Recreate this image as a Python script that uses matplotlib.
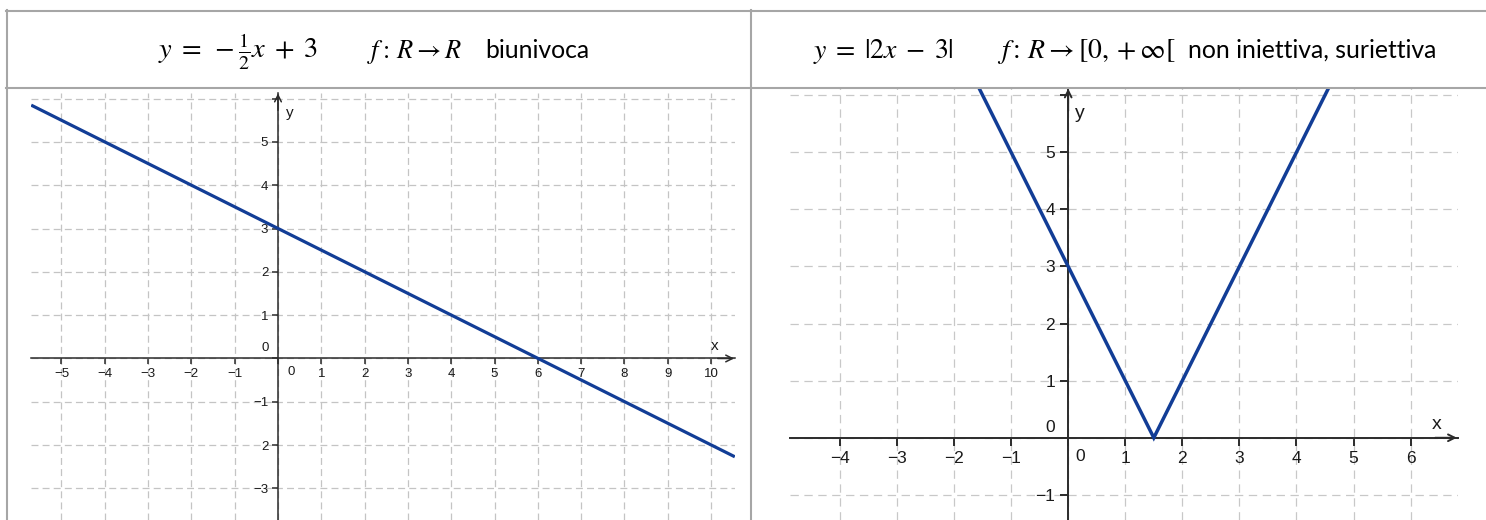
import numpy as np
import matplotlib
matplotlib.use("Agg")
import matplotlib.pyplot as plt
from matplotlib.lines import Line2D

plt.rcParams['mathtext.fontset'] = 'stix'
plt.rcParams['lines.scale_dashes'] = False
plt.rcParams['font.family'] = ['Liberation Sans', 'DejaVu Sans']

W, H = 1486, 520

# left graph: y = -1/2 x + 3 (end points)
lin_x = [-5.7, 10.55]
lin_y = [5.85, -2.27]
left_xticks = [-5, -4, -3, -2, -1, 0, 1, 2, 3, 4, 5, 6, 7, 8, 9, 10]
left_xlabels = ['−5', '−4', '−3', '−2', '−1', '', '1', '2', '3', '4', '5',
                '6', '7', '8', '9', '10']
left_yticks = [-3, -2, -1, 0, 1, 2, 3, 4, 5, 6]
left_ylabels = ['−3', '2', '−1', '', '1', '2', '3', '4', '5', '']

# right graph: y = |2x - 3|
abs_x = [-1.6, 1.5, 4.6]
abs_y = [6.2, 0.0, 6.2]
right_xticks = [-4, -3, -2, -1, 0, 1, 2, 3, 4, 5, 6]
right_xlabels = ['−4', '−3', '−2', '−1', '', '1', '2', '3', '4', '5', '6']
right_yticks = [-1, 0, 1, 2, 3, 4, 5, 6]
right_ylabels = ['−1', '', '1', '2', '3', '4', '5', '']

BLUE = '#123d96'
AXC = '#2b2b2b'
BORDER = '#a6a6a6'


def px_box(x0, y0, x1, y1):
    # pixel box measured from the top left corner
    return [x0 / W, 1 - y1 / H, (x1 - x0) / W, (y1 - y0) / H]


def setup(ax, xlim, ylim, xt, xl, yt, yl, fs, tlen, pad, dash, gcol, alw):
    ax.set_xlim(*xlim)
    ax.set_ylim(*ylim)
    ax.patch.set_alpha(0)
    for s in ['top', 'right']:
        ax.spines[s].set_visible(False)
    for s in ['left', 'bottom']:
        ax.spines[s].set_position(('data', 0))
        ax.spines[s].set_color(AXC)
        ax.spines[s].set_linewidth(alw)
    ax.set_xticks(xt)
    ax.set_xticklabels(xl)
    ax.set_yticks(yt)
    ax.set_yticklabels(yl)
    ax.tick_params(direction='out', length=tlen, width=alw, color=AXC,
                   labelsize=fs, labelcolor='#1a1a1a', pad=pad)
    ax.set_axisbelow(True)
    ax.grid(True, color=gcol, linestyle=(0, dash), linewidth=0.9)
    # arrow heads on the axes
    ax.annotate('', xy=(xlim[1] - 0.02, 0), xytext=(xlim[1] - 0.4, 0),
                arrowprops=dict(arrowstyle='->', lw=alw, color=AXC,
                                shrinkA=0, shrinkB=0, mutation_scale=12),
                annotation_clip=False)
    ax.annotate('', xy=(0, ylim[1] - 0.01), xytext=(0, ylim[1] - 0.4),
                arrowprops=dict(arrowstyle='->', lw=alw, color=AXC,
                                shrinkA=0, shrinkB=0, mutation_scale=12),
                annotation_clip=False)


fig = plt.figure(figsize=(W / 100, H / 100), dpi=100)

# ---- left graph
ax1 = fig.add_axes(px_box(31, 93, 735, 520))
setup(ax1, (-5.704, 10.554), (-3.73, 6.13), left_xticks, left_xlabels,
      left_yticks, left_ylabels, 9.5, 4.5, 2.5, (5, 3), '#c4c4c4', 1.1)
ax1.plot(lin_x, lin_y, color=BLUE, lw=2.3, zorder=4, solid_capstyle='butt')
ax1.annotate('0', xy=(0, 0), xytext=(13, -14), textcoords='offset pixels',
             ha='center', va='center', fontsize=9.5, color='#1a1a1a')
ax1.annotate('0', xy=(0, 0), xytext=(-13, 10), textcoords='offset pixels',
             ha='center', va='center', fontsize=9.5, color='#1a1a1a')
ax1.annotate('x', xy=(1, 0), xycoords=('axes fraction', 'data'),
             xytext=(-20, 12), textcoords='offset pixels',
             ha='center', va='center', fontsize=11, color='#1a1a1a')
ax1.annotate('y', xy=(0, 1), xycoords=('data', 'axes fraction'),
             xytext=(12, -20), textcoords='offset pixels',
             ha='center', va='center', fontsize=11, color='#1a1a1a')

# ---- right graph
ax2 = fig.add_axes(px_box(790, 88, 1458, 520))
setup(ax2, (-4.874, 6.83), (-1.44, 6.125), right_xticks, right_xlabels,
      right_yticks, right_ylabels, 12.5, 6, 3.5, (6, 4), '#c8c8c8', 1.4)
ax2.plot(abs_x, abs_y, color=BLUE, lw=2.5, zorder=4, solid_joinstyle='miter')
ax2.annotate('0', xy=(0, 0), xytext=(12, -19), textcoords='offset pixels',
             ha='center', va='center', fontsize=12.5, color='#1a1a1a')
ax2.annotate('0', xy=(0, 0), xytext=(-18, 10), textcoords='offset pixels',
             ha='center', va='center', fontsize=12.5, color='#1a1a1a')
ax2.annotate('x', xy=(1, 0), xycoords=('axes fraction', 'data'),
             xytext=(-21, 13), textcoords='offset pixels',
             ha='center', va='center', fontsize=14, color='#1a1a1a')
ax2.annotate('y', xy=(0, 1), xycoords=('data', 'axes fraction'),
             xytext=(12, -25), textcoords='offset pixels',
             ha='center', va='center', fontsize=14, color='#1a1a1a')

# ---- table borders
def border(x0, y0, x1, y1):
    fig.add_artist(Line2D([x0 / W, x1 / W], [1 - y0 / H, 1 - y1 / H],
                          transform=fig.transFigure, color=BORDER, lw=1.5))

border(6, 11, W, 11)
border(6, 88, W, 88)
border(7, 10, 7, H)
border(751, 10, 751, H)

# ---- header texts
base = 1 - 58 / H
ms = 20      # math size
ts = 17.8    # plain text size
fig.text(158 / W, base, r'$y\;=\;-\frac{1}{2}x\;+\;3$', fontsize=ms + 0.5,
         va='baseline')
fig.text(367 / W, base, r'$f{:}\,R\rightarrow R$', fontsize=ms - 1,
         va='baseline')
fig.text(485 / W, base, 'biunivoca', fontsize=ts, va='baseline',
         family=['Lato', 'DejaVu Sans'])
fig.text(813 / W, base, r'$y\;=\;|2x\;-\;3|$', fontsize=ms, va='baseline')
fig.text(997 / W, base, r'$f{:}\,R\rightarrow [0,+\infty[$', fontsize=ms,
         va='baseline')
fig.text(1188 / W, base, 'non iniettiva, suriettiva', fontsize=ts,
         va='baseline', family=['Lato', 'DejaVu Sans'])

fig.savefig('out.png', dpi=100)
